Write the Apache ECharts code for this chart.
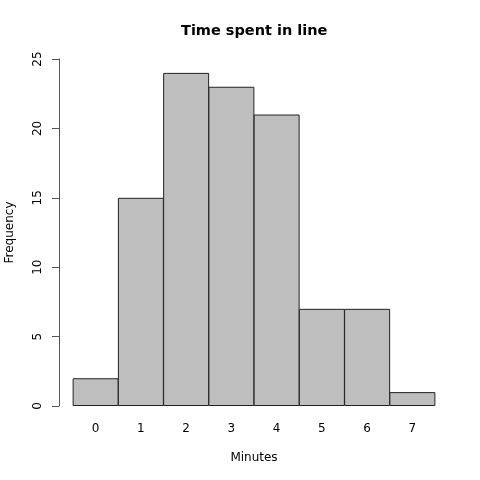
<!DOCTYPE html>
<html><head><meta charset="utf-8">
<script src="https://cdn.jsdelivr.net/npm/echarts@6/dist/echarts.min.js"></script>
<style>html,body{margin:0;padding:0;background:#fff}#c{width:480px;height:480px}</style>
</head><body><div id="c"></div>
<script>
const categories = ['0','1','2','3','4','5','6','7'];
const frequencies = [2, 15, 24, 23, 21, 7, 7, 1];
const yTicks = [0, 5, 10, 15, 20, 25];

const chart = echarts.init(document.getElementById('c'), null, {renderer: 'canvas'});
const font = 'DejaVu Sans';
chart.setOption({
  animation: false,
  backgroundColor: '#fff',
  title: {
    text: 'Time spent in line', left: 176, top: 19,
    textStyle: {fontFamily: font, fontSize: 14.5, fontWeight: 'bold', color: '#000'}
  },
  grid: {left: 73, right: 45, top: 59, bottom: 74, containLabel: false, outerBoundsMode: 'none'},
  xAxis: {
    type: 'category', data: categories,
    name: 'Minutes', nameLocation: 'middle', nameGap: 46,
    nameTextStyle: {fontFamily: font, fontSize: 12, color: '#000'},
    axisLine: {show: false}, axisTick: {show: false},
    axisLabel: {fontFamily: font, fontSize: 12, color: '#000', margin: 17}
  },
  yAxis: {
    type: 'value', min: yTicks[0], max: yTicks[yTicks.length-1], interval: 5,
    offset: 14,
    name: 'Frequency', nameLocation: 'middle', nameGap: 43,
    nameTextStyle: {fontFamily: font, fontSize: 12, color: '#000'},
    axisLine: {show: true, lineStyle: {color: '#555', width: 1}},
    axisTick: {show: true, length: 7, lineStyle: {color: '#555'}},
    splitLine: {show: false},
    axisLabel: {fontFamily: font, fontSize: 12, color: '#000', rotate: 90, margin: 15}
  },
  series: [{
    type: 'bar', data: frequencies,
    barWidth: 46, barCategoryGap: 0,
    itemStyle: {color: '#bebebe', borderColor: '#222', borderWidth: 1}
  }]
});
</script></body></html>
